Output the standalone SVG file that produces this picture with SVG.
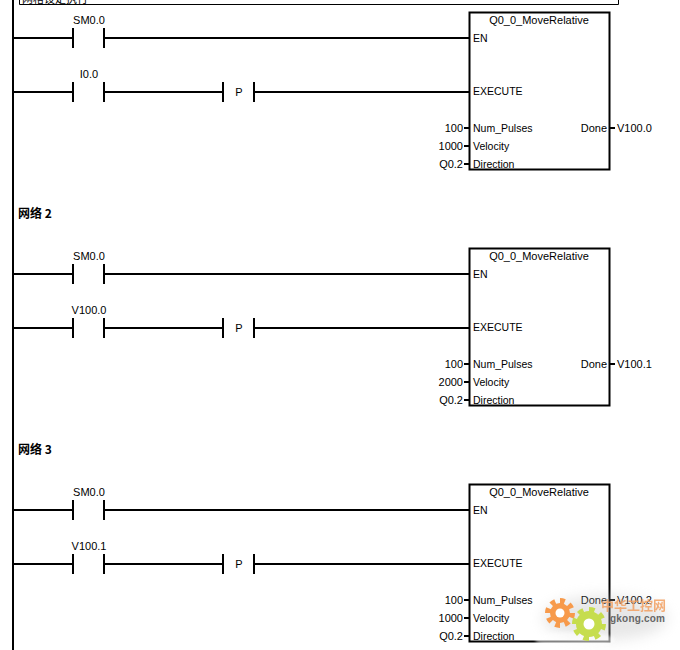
<svg xmlns="http://www.w3.org/2000/svg" width="680" height="650" viewBox="0 0 680 650">
<style>
text{font-family:"Liberation Sans",Arial,"Noto Sans CJK SC",sans-serif;font-size:11px;fill:#000}
.e{text-anchor:end}.m{text-anchor:middle}
.p{font-size:10.500px}
.b{font-weight:bold;font-size:12px;font-family:"Noto Sans CJK SC","Liberation Sans",sans-serif}
.w{stroke:#000;stroke-width:2;fill:none}
.t{stroke:#000;stroke-width:1;fill:none}
.box{stroke:#000;stroke-width:2;fill:#fff}
.tooth{fill:none;stroke-width:6;stroke-dasharray:1 1}
</style>
<defs>
<filter id="soft" x="-50%" y="-50%" width="200%" height="200%"><feGaussianBlur stdDeviation="7"/></filter>
<filter id="soft2" x="-30%" y="-60%" width="160%" height="220%"><feGaussianBlur stdDeviation="1.500"/></filter>
<path id="contact" class="w" d="M73 -10V10M104 -10V10"/>
<path id="edge" class="w" d="M223 -10V10M254 -10V10"/>
<g id="fb">
<rect class="box" x="469.500" y="12.500" width="140" height="157"/>
<text class="m" x="539" y="24">Q0_0_MoveRelative</text>
<text class="p" x="473" y="42">EN</text>
<text class="p" x="473" y="95">EXECUTE</text>
<text class="p" x="473" y="132">Num_Pulses</text>
<text class="p" x="473" y="150">Velocity</text>
<text class="p" x="473" y="168">Direction</text>
<text class="e" x="607" y="132">Done</text>
<path class="w" d="M464 128H469M464 146H469M464 164H469M610 128H615"/>
<text class="e" x="463" y="132">100</text>
<text class="e" x="463" y="168">Q0.2</text>
</g>
</defs>
<rect width="680" height="650" fill="#fff"/>
<g id="connectors">
<path class="w" d="M13 0V650"/>
<path class="t" d="M19.500 0V4.500H618.500V0"/>
<path class="w" d="M13 38H73M104 38H469M13 92H73M104 92H223M254 92H469"/>
<path class="w" d="M13 274H73M104 274H469M13 328H73M104 328H223M254 328H469"/>
<path class="w" d="M13 510H73M104 510H469M13 564H73M104 564H223M254 564H469"/>
</g>
<text x="22" y="3" style="font-family:'Noto Sans CJK SC',sans-serif;font-size:11px">网格设定执行</text>
<g id="network1">
<use href="#contact" y="38"/><use href="#contact" y="92"/><use href="#edge" y="92"/>
<text class="m" x="89" y="24">SM0.0</text>
<text class="m" x="89" y="78">I0.0</text>
<text class="m" x="239" y="96">P</text>
<use href="#fb"/>
<text class="e" x="463" y="150">1000</text>
<text x="617" y="132">V100.0</text>
</g>
<text class="b" x="18" y="218">网络 2</text>
<g id="network2">
<use href="#contact" y="274"/><use href="#contact" y="328"/><use href="#edge" y="328"/>
<text class="m" x="89" y="260">SM0.0</text>
<text class="m" x="89" y="314">V100.0</text>
<text class="m" x="239" y="332">P</text>
<use href="#fb" y="236"/>
<text class="e" x="463" y="386">2000</text>
<text x="617" y="368">V100.1</text>
</g>
<text class="b" x="18" y="454">网络 3</text>
<g id="network3">
<use href="#contact" y="510"/><use href="#contact" y="564"/><use href="#edge" y="564"/>
<text class="m" x="89" y="496">SM0.0</text>
<text class="m" x="89" y="550">V100.1</text>
<text class="m" x="239" y="568">P</text>
<use href="#fb" y="472"/>
<text class="e" x="463" y="622">1000</text>
<text x="617" y="604">V100.2</text>
</g>
<g id="watermark">
<ellipse cx="605" cy="618" rx="62" ry="22" fill="#bbb" opacity=".35" filter="url(#soft)"/>
<ellipse cx="575" cy="640" rx="40" ry="8" fill="#fff" opacity=".5" filter="url(#soft2)"/>
<circle cx="560" cy="613" r="10" fill="#f79a4b"/>
<circle cx="560" cy="613" r="12" class="tooth" stroke="#f79a4b" pathLength="16"/>
<circle cx="560" cy="613" r="4.500" fill="#fff"/>
<circle cx="589" cy="624" r="13" fill="#c6dd4e"/>
<circle cx="589" cy="624" r="14" class="tooth" stroke="#c6dd4e" pathLength="16"/>
<circle cx="589" cy="624" r="5.500" fill="#fff"/>
<text x="601" y="610" style="font-family:'Noto Sans CJK SC',sans-serif;font-size:13px;font-weight:bold;fill:#f2a062" opacity=".85">中华工控网</text>
<text x="610" y="622" style="font-size:10px;font-weight:bold;fill:#666;letter-spacing:.2px">gkong.com</text>
</g>
</svg>
